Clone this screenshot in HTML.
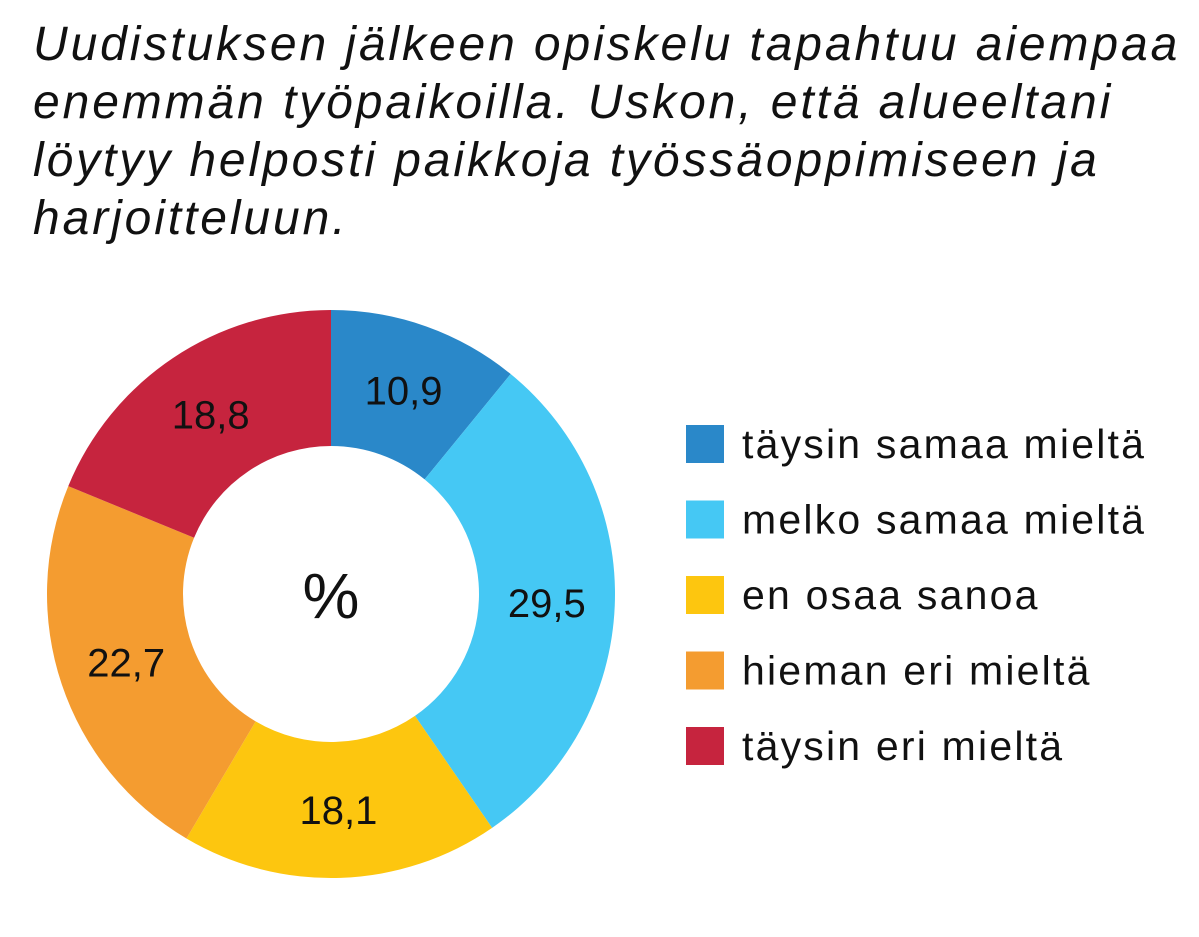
<!DOCTYPE html>
<html><head><meta charset="utf-8">
<style>
html,body{margin:0;padding:0;background:#fff;}
body{width:1199px;height:937px;position:relative;overflow:hidden;font-family:"Liberation Sans",sans-serif;}
#title{position:absolute;left:33px;top:16px;font-size:48px;letter-spacing:2.9px;line-height:58px;font-style:italic;color:#111;margin:0;font-weight:normal;width:1166px;white-space:nowrap;}
svg{position:absolute;left:0;top:0;}
</style></head><body>
<h1 id="title">Uudistuksen jälkeen opiskelu tapahtuu aiempaa<br>enemmän työpaikoilla. Uskon, että alueeltani<br>löytyy helposti paikkoja työssäoppimiseen ja<br>harjoitteluun.</h1>
<svg id="chart" width="1199" height="937"></svg>
<script>
const categories=["täysin samaa mieltä","melko samaa mieltä","en osaa sanoa","hieman eri mieltä","täysin eri mieltä"];
const values=[10.9,29.5,18.1,22.7,18.8];
const printed=["10,9","29,5","18,1","22,7","18,8"];
const colors=["#2a88c9","#45c8f4","#fdc60f","#f49c30","#c6243e"];
const NS="http://www.w3.org/2000/svg";
const svg=document.getElementById("chart");
const cx=331,cy=594,R=284,r=148;
const total=values.reduce((a,b)=>a+b,0);
function pt(rad,a){return [cx+rad*Math.sin(a),cy-rad*Math.cos(a)];}
let acc=0;
values.forEach((v,i)=>{
  const a0=acc/total*2*Math.PI; acc+=v; const a1=acc/total*2*Math.PI;
  const large=(a1-a0)>Math.PI?1:0;
  const [x0,y0]=pt(R,a0),[x1,y1]=pt(R,a1),[x2,y2]=pt(r,a1),[x3,y3]=pt(r,a0);
  const p=document.createElementNS(NS,"path");
  p.setAttribute("d",`M${x0},${y0}A${R},${R} 0 ${large} 1 ${x1},${y1}L${x2},${y2}A${r},${r} 0 ${large} 0 ${x3},${y3}Z`);
  p.setAttribute("fill",colors[i]);
  
  
  svg.appendChild(p);
  const am=(a0+a1)/2; const [lx,ly]=pt((R+r)/2,am);
  const t=document.createElementNS(NS,"text");
  t.setAttribute("x",lx);t.setAttribute("y",ly+14);
  t.setAttribute("text-anchor","middle");t.setAttribute("font-size","40");
  t.setAttribute("font-family","Liberation Sans, sans-serif");t.setAttribute("fill","#111");
  t.textContent=printed[i];
  
  
  svg.appendChild(t);
});
const pc=document.createElementNS(NS,"text");
pc.setAttribute("x",cx);pc.setAttribute("y",cy+24);pc.setAttribute("text-anchor","middle");
pc.setAttribute("font-size","64");pc.setAttribute("font-family","Liberation Sans, sans-serif");pc.setAttribute("fill","#111");
pc.textContent="%";


svg.appendChild(pc);
categories.forEach((c,i)=>{
  const y=425+i*75.5;
  const g=document.createElementNS(NS,"g");
  
  
  const s=document.createElementNS(NS,"rect");
  s.setAttribute("x",686);s.setAttribute("y",y);s.setAttribute("width",38);s.setAttribute("height",38);s.setAttribute("fill",colors[i]);
  
  
  const t=document.createElementNS(NS,"text");
  t.setAttribute("x",742);t.setAttribute("y",y+33);t.setAttribute("font-size","41");t.setAttribute("letter-spacing","2.2");
  t.setAttribute("font-family","Liberation Sans, sans-serif");t.setAttribute("fill","#111");
  t.textContent=c;
  
  
  g.appendChild(s);g.appendChild(t);svg.appendChild(g);
});
</script>
</body></html>
